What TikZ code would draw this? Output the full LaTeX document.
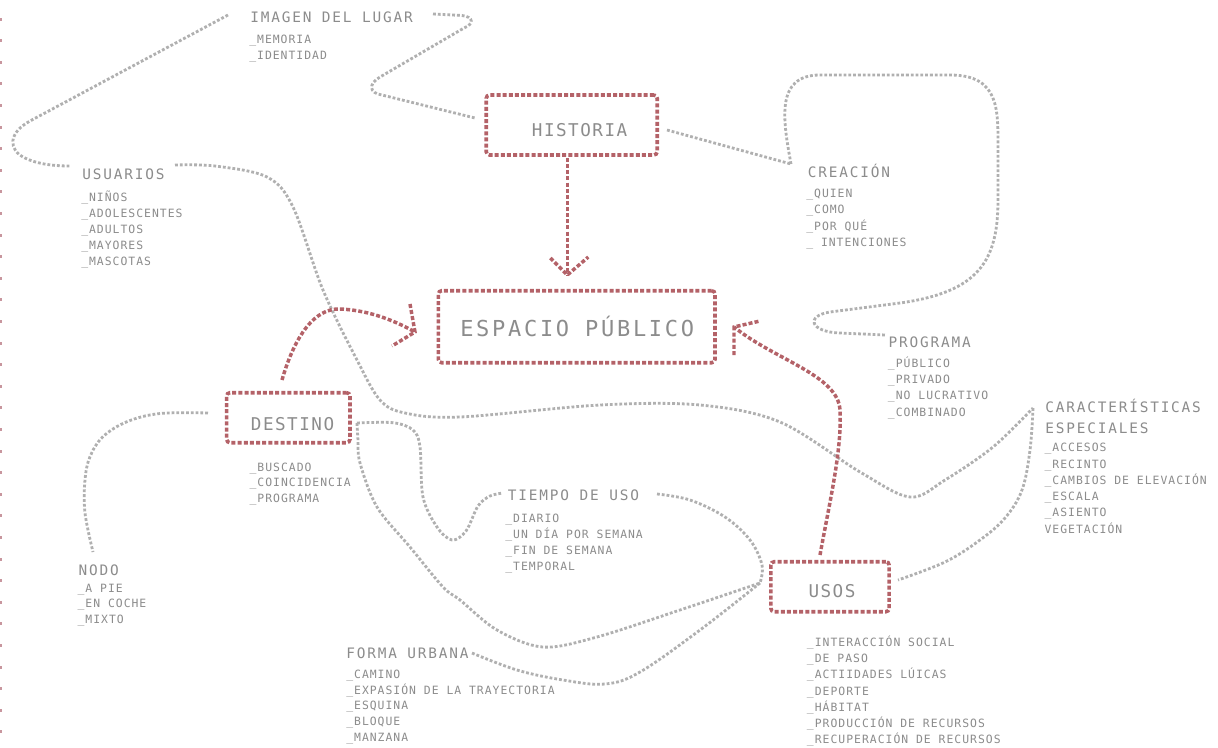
\documentclass[tikz,border=0pt]{standalone}
\usepackage{fontspec}
\newfontfamily\hdfont[LetterSpace=12.7]{DejaVu Sans Mono}
\newfontfamily\lsfont[LetterSpace=8.8]{DejaVu Sans Mono}
\newfontfamily\bxfont[LetterSpace=8.5]{DejaVu Sans Mono}
\newfontfamily\bgfont[LetterSpace=12.3]{DejaVu Sans Mono}
\definecolor{redc}{RGB}{180,98,104}
\definecolor{linegray}{RGB}{176,176,176}
\definecolor{textgray}{RGB}{140,140,140}
\definecolor{edgered}{RGB}{200,150,158}
\tikzset{
  txt/.style={text=textgray, inner sep=0pt, anchor=base west},
  hdr/.style={txt, font=\hdfont\fontsize{10.8}{13}\selectfont},
  lst/.style={txt, font=\lsfont\fontsize{8.55}{10}\selectfont},
  bxl/.style={txt, font=\bxfont\fontsize{13.2}{15}\selectfont},
  big/.style={txt, font=\bgfont\fontsize{16.5}{19}\selectfont},
  topicbox/.style={draw=redc, line width=2.7pt, dash pattern=on 3pt off 1.6pt,
    rounded corners=2.5pt, inner sep=0pt},
  gline/.style={draw=linegray, line width=2.1pt, dash pattern=on 2.1pt off 1.5pt},
  rline/.style={draw=redc, line width=2.6pt, dash pattern=on 3pt off 1.6pt}
}
% a list of items: name, x, first baseline, line step, items
\newcommand\itemlist[5]{%
  \foreach \t [count=\i] in {#5} {\node[lst] (#1-\i) at (#2,{#3+#4*(\i-1)}) {\t};}}
\begin{document}
\begin{tikzpicture}[x=0.75pt,y=-0.75pt]
\fill[white] (0,0) rectangle (1218,747);
\useasboundingbox (0,0) rectangle (1218,747);

% dotted margin on the left edge
\foreach \k in {0,...,33}
  \fill[edgered] (0,{17.6+21.6*\k}) rectangle (1.6,{20.6+21.6*\k});

% main topic boxes
\node[topicbox, minimum width=128.25pt, minimum height=45pt] (hist) at (571.7,125) {};
\node[topicbox, minimum width=207.5pt, minimum height=54pt] (esp) at (576.7,326.7) {};
\node[topicbox, minimum width=92.5pt, minimum height=37.5pt] (dest) at (288.3,417.7) {};
\node[topicbox, minimum width=88.7pt, minimum height=37.5pt] (usos) at (830,586.7) {};

\node[bxl] (hist-l) at (531.7,136) {HISTORIA};
\node[big] (esp-l) at (460,336.7) {ESPACIO PÚBLICO};
\node[bxl] (dest-l) at (250.7,430.7) {DESTINO};
\node[bxl] (usos-l) at (808.3,597.7) {USOS};

% headings
\node[hdr] (img) at (250,22.7) {IMAGEN DEL LUGAR};
\node[hdr] (usr) at (82,179) {USUARIOS};
\node[hdr] (cre) at (807.7,177.3) {CREACIÓN};
\node[hdr] (prog) at (888.3,347.7) {PROGRAMA};
\node[hdr] (car) at (1045,412.3) {CARACTERÍSTICAS};
\node[hdr] (car2) at (1045,433.3) {ESPECIALES};
\node[hdr] (nodo) at (78.3,575.7) {NODO};
\node[hdr] (tiempo) at (507.7,500.7) {TIEMPO DE USO};
\node[hdr] (forma) at (346,658.3) {FORMA URBANA};

% item lists
\itemlist{imgl}{249}{43.5}{16}{\_MEMORIA,\_IDENTIDAD}
\itemlist{usrl}{81}{201.5}{16}{\_NIÑOS,\_ADOLESCENTES,\_ADULTOS,\_MAYORES,\_MASCOTAS}
\itemlist{crel}{806}{197.7}{16.2}{\_QUIEN,\_COMO,\_POR QUÉ,\_ INTENCIONES}
\itemlist{progl}{887.7}{367.7}{16.1}{\_PÚBLICO,\_PRIVADO,\_NO LUCRATIVO,\_COMBINADO}
\itemlist{carl}{1044.3}{451.7}{16.3}{\_ACCESOS,\_RECINTO,\_CAMBIOS DE ELEVACIÓN,\_ESCALA,\_ASIENTO,VEGETACIÓN}
\itemlist{destl}{249.3}{471}{15.85}{\_BUSCADO,\_COINCIDENCIA,\_PROGRAMA}
\itemlist{nodol}{77.3}{592.3}{15.5}{\_A PIE,\_EN COCHE,\_MIXTO}
\itemlist{tiempol}{505}{522.7}{16}{\_DIARIO,\_UN DÍA POR SEMANA,\_FIN DE SEMANA,\_TEMPORAL}
\itemlist{usosl}{806.7}{646.7}{16.1}{\_INTERACCIÓN SOCIAL,\_DE PASO,\_ACTIIDADES LÚICAS,\_DEPORTE,\_HÁBITAT,\_PRODUCCIÓN DE RECURSOS,\_RECUPERACIÓN DE RECURSOS}
\itemlist{formal}{346}{678.3}{15.7}{\_CAMINO,\_EXPASIÓN DE LA TRAYECTORIA,\_ESQUINA,\_BLOQUE,\_MANZANA}

% connector end points
\coordinate (img-w) at (228,15);
\coordinate (img-e) at (433,14);
\coordinate (usr-w) at (70,166);
\coordinate (usr-e) at (175,165);
\coordinate (hist-w) at (475,118);
\coordinate (hist-e) at (667,130);
\coordinate (cre-nw) at (791,164);
\coordinate (prog-w) at (885,335);
\coordinate (car-w) at (1033,408);
\coordinate (dest-w) at (208,413);
\coordinate (dest-e) at (357,423);
\coordinate (nodo-n) at (93,552);
\coordinate (tiempo-w) at (503,493);
\coordinate (tiempo-e) at (657,494);
\coordinate (usos-w) at (760,583);
\coordinate (usos-e) at (898,580);
\coordinate (forma-e) at (472,653);

% grey links
\draw[gline] (img-w) -- (30,121) .. controls (8,133) and (8,150) .. (25,158)
  .. controls (35,163) and (50,166) .. (usr-w);
\draw[gline] (img-e) -- (462,15.5) .. controls (474,17) and (474,24) .. (464,28)
  -- (380,77) .. controls (368,84) and (369,93) .. (382,95) -- (hist-w);
\draw[gline] (hist-e) -- (cre-nw);
\draw[gline] (cre-nw) .. controls (783,120) and (775,75) .. (820,75) -- (950,75)
  .. controls (1000,75) and (998,110) .. (998,150) -- (998,200)
  .. controls (998,262) and (978,292) .. (900,303) -- (830,312)
  .. controls (805,316) and (810,332) .. (840,333) -- (prog-w);
\draw[gline] plot[smooth, tension=0.55] coordinates {(usr-e) (215,166) (267,177)
  (293,207) (323,290) (357,360) (380,400) (405,413) (460,417) (600,405) (700,405)
  (780,422) (860,472) (910,497) (945,480) (993,447) (car-w)};
\draw[gline] plot[smooth, tension=0.6] coordinates {(car-w) (1030,450) (1022,490)
  (1005,518) (980,540) (945,562) (usos-e)};
\draw[gline] plot[smooth, tension=0.6] coordinates {(dest-w) (160,413.5) (127,421.7)
  (103,436.7) (90,456.7) (85,480) (85,513) (nodo-n)};
\draw[gline] plot[smooth, tension=0.55] coordinates {(dest-e) (393,422.7) (413,430)
  (420,447) (423,497) (437,527) (452,540) (466,531) (478,506) (490,496) (tiempo-w)};
\draw[gline] plot[smooth, tension=0.55] coordinates {(dest-e) (358,440) (360,463)
  (377,507) (410,547) (443,587) (460,600) (497,630) (543,647) (597,637) (680,610) (usos-w)};
\draw[gline] plot[smooth, tension=0.6] coordinates {(tiempo-e) (690,500) (725,517)
  (750,540) (762,565) (usos-w)};
\draw[gline] plot[smooth, tension=0.6] coordinates {(forma-e) (517,670) (563,680)
  (605,684) (640,672) (700,630) (usos-w)};

% red arrows into ESPACIO PUBLICO
\coordinate (hist-s) at (567.3,158);
\coordinate (hist-tip) at (567.3,275);
\draw[rline] (hist-s) -- (hist-tip);
\draw[rline] ([shift={(-17,-17)}]hist-tip) -- (hist-tip) -- ([shift={(21,-18)}]hist-tip);

\coordinate (dest-arr) at (282,380);
\coordinate (esp-tipL) at (415,332);
\draw[rline] (dest-arr) .. controls (295,335) and (315,308) .. (340,309)
  .. controls (365,310) and (390,318) .. (esp-tipL);
\draw[rline] ([shift={(-5,-28)}]esp-tipL) -- (esp-tipL) -- ([shift={(-23,14)}]esp-tipL);

\coordinate (usos-arr) at (820,555);
\coordinate (esp-tipR) at (734,327);
\draw[rline] (usos-arr) .. controls (830,500) and (842,450) .. (840,410)
  .. controls (838,375) and (775,360) .. (esp-tipR);
\draw[rline] ([shift={(0,28)}]esp-tipR) -- (esp-tipR) -- ([shift={(26,-6)}]esp-tipR);
\end{tikzpicture}
\end{document}
